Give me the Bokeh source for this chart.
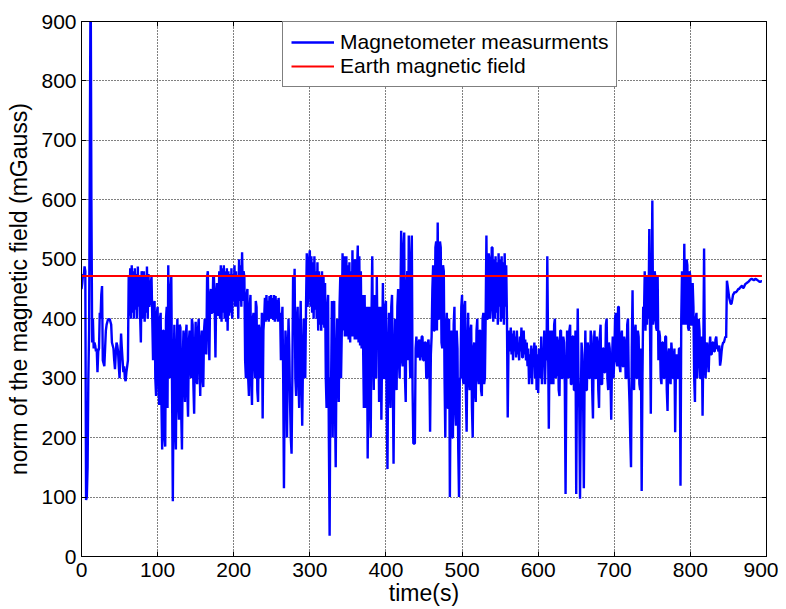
from bokeh.plotting import figure
from bokeh.models import LinearAxis, Legend, LegendItem, FixedTicker, Range1d
from bokeh.embed import file_html
from bokeh.resources import INLINE

# norm of the magnetic field (mGauss), one reading per second
field_mgauss = [
    450, 460, 475, 470, 488, 480, 95, 100, 150, 300, 380, 700, 1000, 600, 360, 400, 350, 360, 355, 345,   # 0-19
    350, 310, 345, 350, 410, 400, 440, 455, 330, 325, 320, 350, 380, 390, 395, 400, 398, 400, 395, 390,   # 20-39
    360, 355, 350, 330, 315, 340, 360, 355, 345, 320, 300, 340, 375, 350, 330, 310, 320, 300, 295, 310,   # 40-59
    320, 330, 470, 405, 485, 400, 490, 410, 480, 400, 485, 415, 475, 400, 488, 420, 470, 405, 360, 480,   # 60-79
    470, 400, 480, 395, 470, 410, 488, 400, 475, 420, 430, 460, 470, 400, 330, 420, 430, 300, 270, 410,   # 80-99
    420, 300, 255, 400, 410, 260, 180, 380, 380, 200, 185, 400, 420, 250, 490, 330, 300, 450, 470, 280,   # 100-119
    93, 300, 390, 220, 180, 350, 400, 260, 230, 390, 385, 240, 180, 330, 380, 300, 260, 370, 390, 280,    # 120-139
    235, 360, 380, 320, 300, 400, 390, 290, 240, 350, 395, 300, 290, 380, 400, 330, 270, 360, 380, 300,   # 140-159
    285, 380, 400, 350, 340, 470, 480, 380, 330, 440, 450, 410, 410, 470, 470, 420, 335, 440, 460, 410,   # 160-179
    405, 480, 400, 490, 395, 485, 410, 490, 400, 480, 395, 485, 380, 480, 405, 475, 410, 485, 400, 475,   # 180-199
    430, 490, 420, 480, 420, 470, 400, 500, 430, 490, 420, 512, 430, 480, 470, 330, 300, 440, 450, 300,   # 200-219
    270, 420, 440, 300, 255, 400, 410, 330, 300, 430, 420, 280, 260, 390, 380, 300, 330, 410, 232, 380,   # 220-239
    400, 435, 395, 440, 398, 430, 395, 438, 400, 440, 400, 435, 398, 440, 395, 438, 400, 432, 395, 435,   # 240-259
    400, 410, 330, 390, 420, 300, 115, 300, 380, 350, 200, 330, 400, 350, 260, 200, 173, 300, 470, 420,   # 260-279
    484, 300, 270, 400, 420, 300, 250, 380, 430, 300, 220, 330, 400, 350, 300, 420, 510, 420, 440, 500,   # 280-299
    515, 420, 505, 410, 495, 400, 505, 415, 480, 400, 495, 380, 480, 390, 470, 380, 480, 390, 470, 385,   # 300-319
    460, 300, 250, 420, 440, 200, 35, 300, 300, 430, 200, 350, 430, 260, 150, 330, 400, 300, 260, 420,    # 320-339
    470, 300, 380, 510, 380, 505, 370, 495, 505, 370, 490, 365, 495, 360, 480, 370, 515, 370, 500, 365,   # 340-359
    500, 365, 480, 523, 360, 505, 355, 480, 350, 440, 355, 250, 440, 300, 250, 420, 165, 350, 420, 260,   # 360-379
    200, 400, 505, 350, 280, 440, 380, 300, 470, 350, 420, 260, 330, 420, 230, 350, 460, 300, 300, 420,   # 380-399
    430, 250, 147, 350, 410, 280, 250, 420, 440, 300, 156, 330, 400, 300, 280, 420, 450, 330, 300, 420,   # 400-419
    548, 330, 320, 520, 545, 300, 260, 450, 480, 330, 540, 350, 300, 500, 540, 280, 190, 190, 190, 350,   # 420-439
    370, 340, 335, 360, 365, 330, 340, 370, 370, 330, 330, 360, 360, 300, 300, 360, 365, 330, 210, 340,   # 440-459
    370, 450, 490, 380, 380, 520, 530, 380, 562, 400, 400, 530, 520, 360, 350, 490, 480, 300, 200, 380,   # 460-479
    410, 250, 250, 400, 100, 300, 380, 200, 200, 390, 420, 250, 220, 380, 350, 180, 100, 300, 300, 420,   # 480-499
    440, 300, 290, 420, 430, 280, 210, 350, 410, 300, 280, 380, 390, 250, 200, 350, 360, 280, 260, 380,   # 500-519
    400, 300, 290, 380, 380, 280, 270, 400, 410, 290, 300, 400, 540, 400, 400, 510, 500, 400, 420, 520,   # 520-539
    520, 395, 500, 400, 505, 410, 495, 390, 510, 420, 500, 395, 505, 400, 495, 390, 510, 420, 490, 400,   # 540-559
    234, 350, 380, 345, 385, 340, 375, 330, 380, 345, 370, 335, 380, 340, 360, 330, 370, 345, 385, 335,   # 560-579
    335, 380, 340, 365, 330, 360, 320, 350, 290, 340, 300, 355, 290, 350, 330, 360, 300, 355, 280, 340,   # 580-599
    275, 350, 340, 300, 370, 290, 350, 330, 380, 290, 350, 330, 505, 360, 215, 370, 380, 290, 380, 300,   # 600-619
    290, 390, 400, 300, 310, 370, 360, 280, 270, 380, 380, 300, 300, 370, 360, 290, 105, 300, 380, 310,   # 620-639
    300, 380, 390, 290, 290, 370, 370, 280, 280, 380, 105, 300, 417, 300, 250, 97, 250, 360, 340, 280,    # 640-659
    115, 300, 380, 280, 280, 360, 350, 300, 300, 380, 370, 280, 232, 350, 380, 300, 300, 370, 360, 280,   # 660-679
    250, 370, 390, 290, 290, 350, 350, 310, 310, 390, 400, 300, 280, 360, 350, 300, 230, 330, 370, 300,   # 680-699
    330, 400, 410, 330, 320, 420, 420, 320, 310, 370, 380, 320, 320, 370, 360, 300, 300, 390, 400, 300,   # 700-719
    260, 200, 150, 350, 448, 300, 280, 380, 390, 300, 300, 380, 370, 290, 280, 350, 110, 300, 420, 400,   # 720-739
    480, 380, 470, 390, 470, 400, 551, 380, 240, 450, 599, 390, 400, 480, 470, 385, 380, 470, 330, 380,   # 740-759
    370, 300, 290, 360, 360, 300, 300, 370, 370, 280, 245, 340, 350, 300, 290, 360, 340, 300, 300, 350,   # 760-779
    209, 320, 340, 300, 300, 350, 350, 119, 400, 480, 460, 390, 526, 400, 390, 500, 490, 385, 380, 480,   # 780-799
    470, 390, 390, 460, 420, 300, 260, 400, 410, 300, 330, 400, 380, 300, 300, 370, 237, 350, 518, 330,   # 800-819
    300, 350, 360, 330, 310, 350, 370, 340, 340, 360, 360, 345, 345, 365, 370, 350, 350, 345, 355, 321,   # 820-839
    330, 345, 355, 360, 360, 365, 370, 368, 464, 455, 445, 435, 430, 425, 425, 432, 440, 442, 445, 444,   # 840-859
    445, 446, 448, 450, 450, 452, 453, 455, 455, 452, 452, 455, 458, 459, 460, 461, 462, 463, 465, 466,   # 860-879
    467, 467, 466, 465, 465, 467, 467, 466, 465, 464, 463, 462, 462, 463, 463,                            # 880-894
]
# sample times (s): one reading per second
time_s = list(range(len(field_mgauss)))

# reference Earth magnetic field (mGauss)
earth_t = [0, 894]
earth_field = [472, 472]

x_ticks = [0, 100, 200, 300, 400, 500, 600, 700, 800, 900]
y_ticks = [0, 100, 200, 300, 400, 500, 600, 700, 800, 900]

FONT = "Liberation Sans"

p = figure(width=778, height=609, output_backend="svg", toolbar_location=None,
           x_range=Range1d(0, 900), y_range=Range1d(0, 900),
           min_border_left=81, min_border_right=12, min_border_top=21, min_border_bottom=53)
p.background_fill_color = "white"
p.border_fill_color = "white"
p.outline_line_color = "black"
p.outline_line_width = 1

blue = p.line(time_s, field_mgauss, line_color="#0000ff", line_width=2.4)
red = p.line(earth_t, earth_field, line_color="#ff0000", line_width=2)

for ax in (p.xaxis[0], p.yaxis[0]):
    ax.major_tick_in = 5
    ax.major_tick_out = 0
    ax.minor_tick_line_color = None
    ax.axis_line_color = "black"
    ax.major_tick_line_color = "black"
    ax.major_label_text_font = FONT
    ax.major_label_text_font_size = "21px"
    ax.major_label_text_color = "black"
    ax.axis_label_text_font = FONT
    ax.axis_label_text_font_size = "23px"
    ax.axis_label_text_font_style = "normal"
    ax.axis_label_text_color = "black"

p.xaxis[0].ticker = FixedTicker(ticks=x_ticks)
p.yaxis[0].ticker = FixedTicker(ticks=y_ticks)
p.xaxis[0].axis_label = "time(s)"
p.yaxis[0].axis_label = "norm of the magnetic field (mGauss)"
p.xaxis[0].major_label_standoff = 6
p.xaxis[0].axis_label_standoff = 0
p.yaxis[0].major_label_standoff = 5
p.yaxis[0].axis_label_standoff = 6

# box ticks on top and right (labels not drawn)
top_ax = LinearAxis(ticker=FixedTicker(ticks=x_ticks), major_tick_in=5, major_tick_out=0,
                    minor_tick_line_color=None, major_label_text_font_size="1px",
                    major_label_text_color=None, axis_line_color="black",
                    major_label_standoff=0)
right_ax = LinearAxis(ticker=FixedTicker(ticks=y_ticks), major_tick_in=5, major_tick_out=0,
                      minor_tick_line_color=None, major_label_text_font_size="1px",
                      major_label_text_color=None, axis_line_color="black",
                      major_label_standoff=0)
p.add_layout(top_ax, "above")
p.add_layout(right_ax, "right")

for g in (p.xgrid[0], p.ygrid[0]):
    g.grid_line_color = "black"
    g.grid_line_dash = "1 2"
    g.grid_line_width = 1
    g.grid_line_alpha = 1.0
p.xgrid[0].ticker = FixedTicker(ticks=x_ticks)
p.ygrid[0].ticker = FixedTicker(ticks=y_ticks)

legend = Legend(items=[LegendItem(label="Magnetometer measurments", renderers=[blue]),
                       LegendItem(label="Earth magnetic field", renderers=[red])],
                location=(201, 469))
legend.label_text_font = FONT
legend.label_text_font_size = "21px"
legend.label_text_color = "black"
legend.border_line_color = "black"
legend.border_line_width = 1
legend.background_fill_color = "white"
legend.background_fill_alpha = 1
legend.glyph_width = 43
legend.glyph_height = 24
legend.label_height = 24
legend.label_standoff = 6
legend.padding = 8
legend.spacing = 0
legend.margin = 0
p.add_layout(legend, "center")

open("out.html", "w").write(file_html(p, INLINE))
